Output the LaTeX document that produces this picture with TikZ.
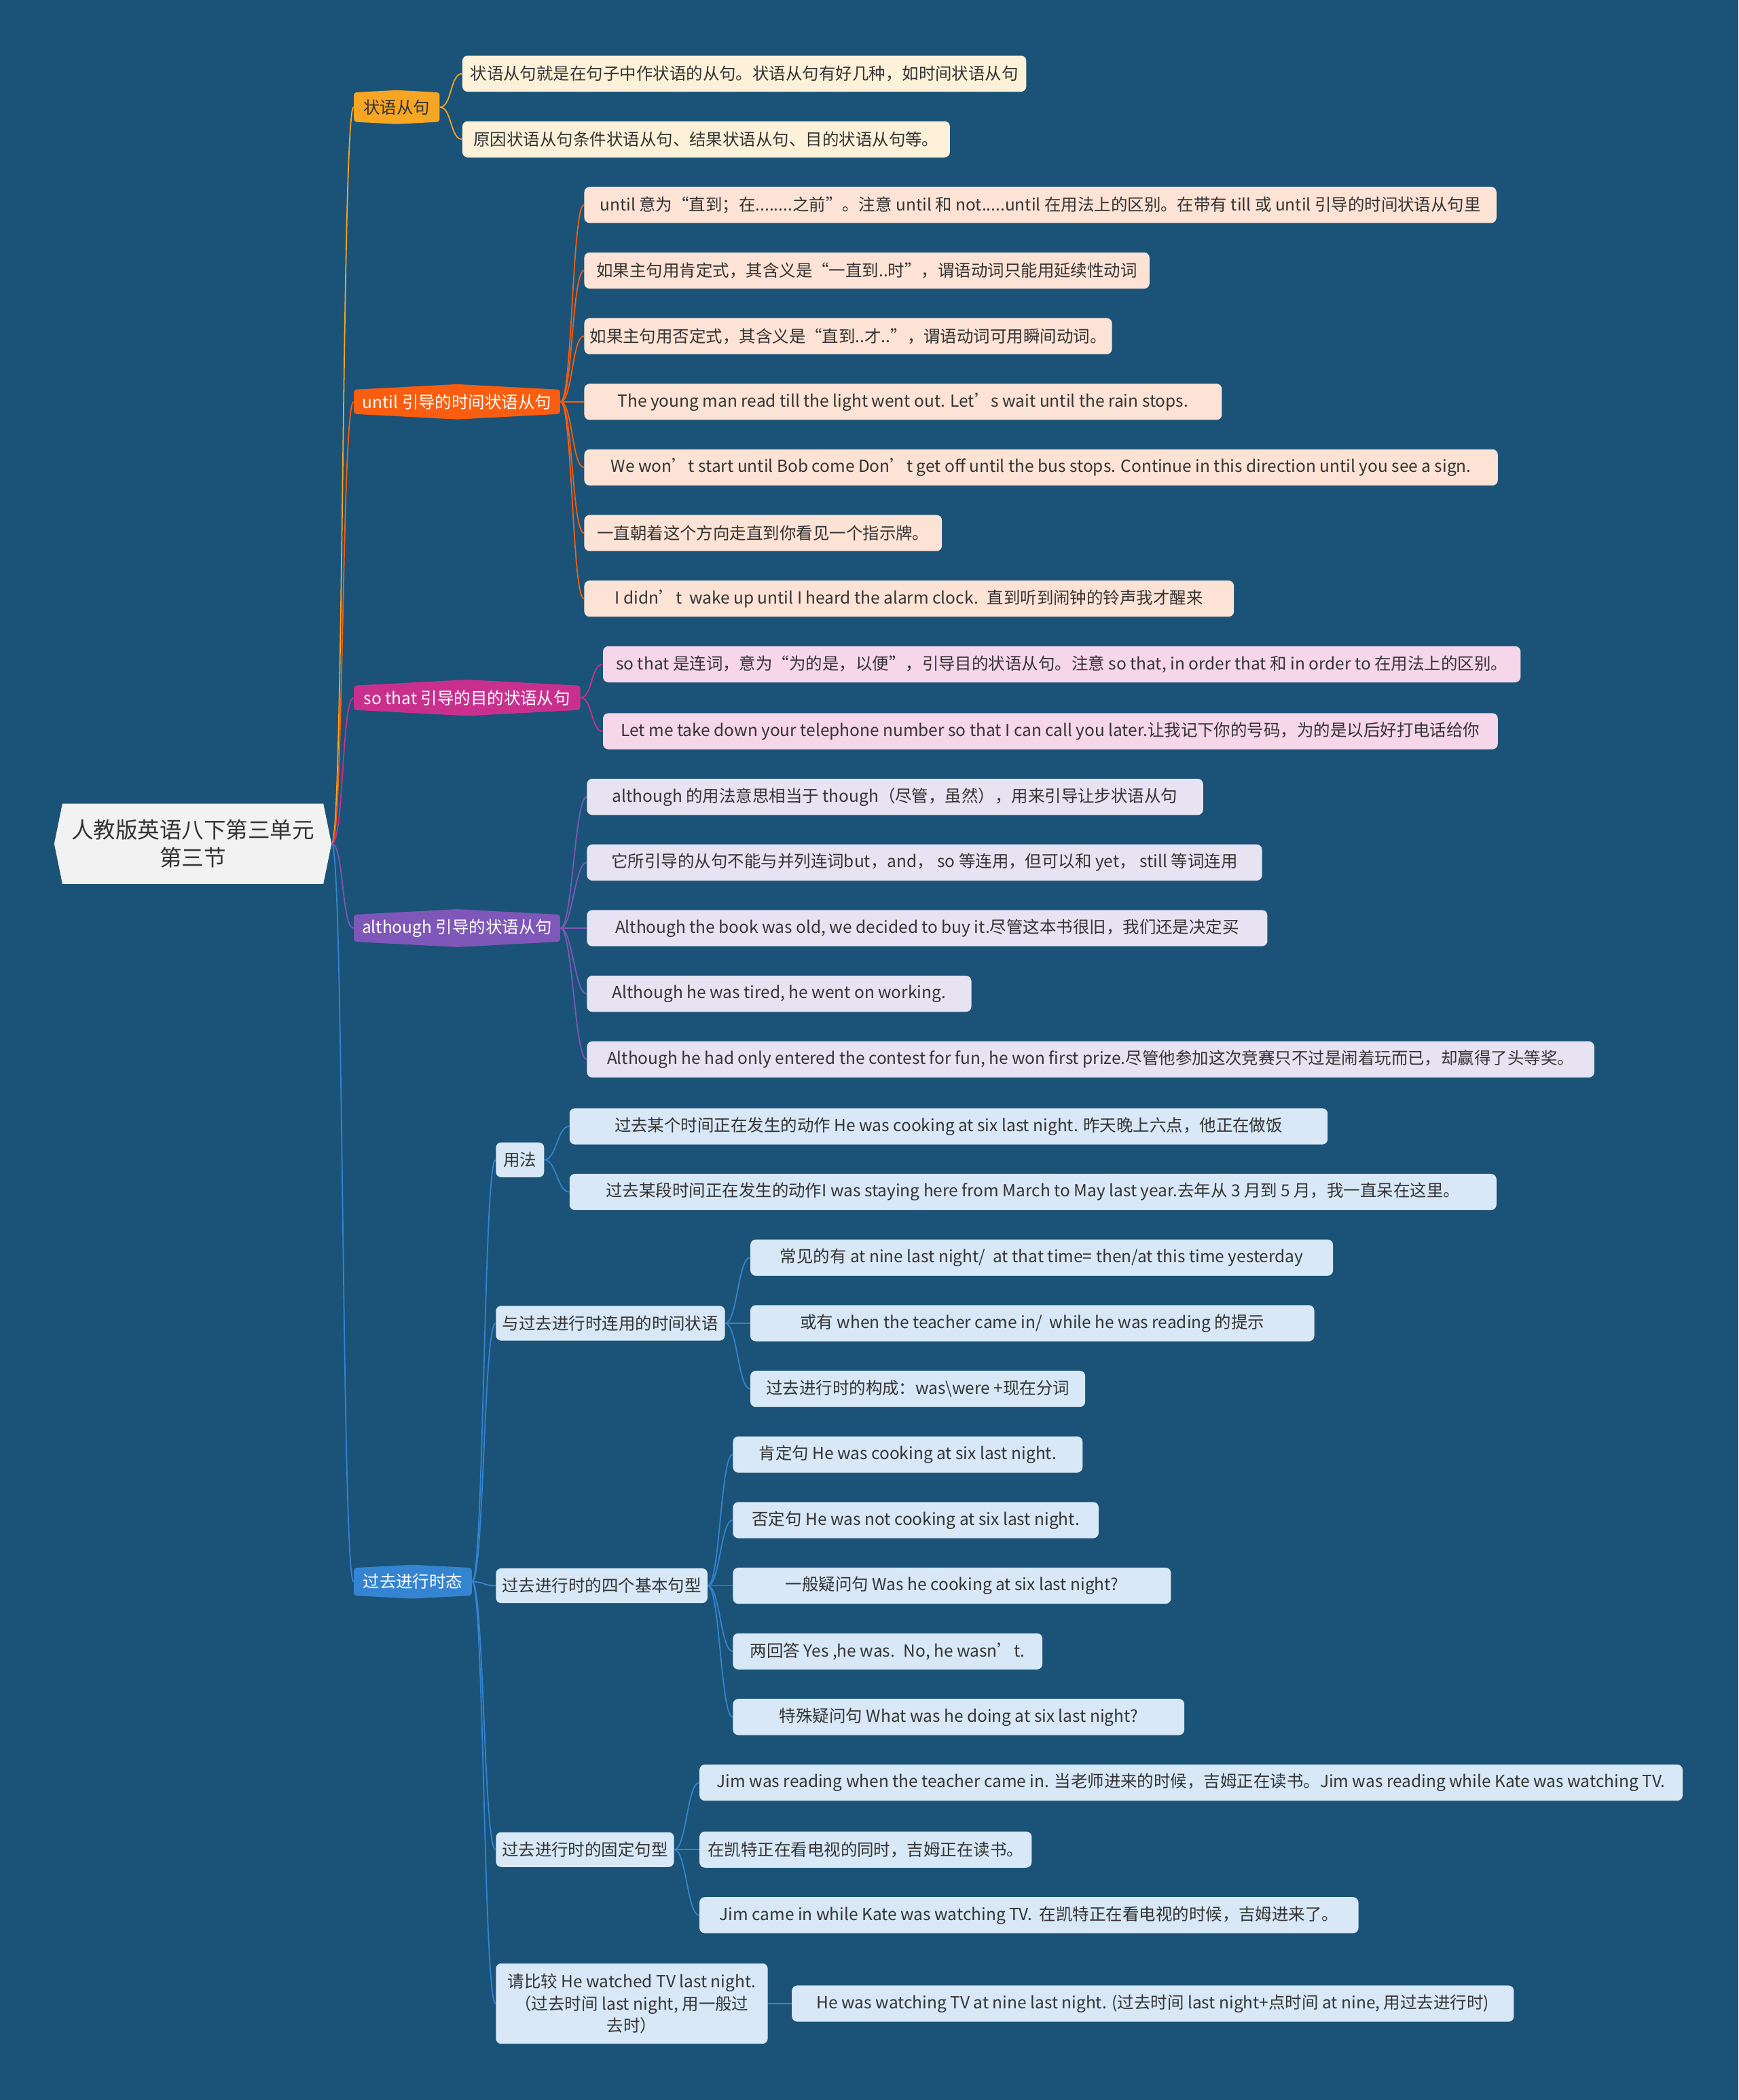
\documentclass[tikz,border=0pt]{standalone}
\usepackage{fontspec}
\setmainfont{Noto Sans CJK SC}
\usetikzlibrary{positioning,shapes.symbols}
\definecolor{bg}{HTML}{1A5377}
\definecolor{txt}{HTML}{333333}
\definecolor{rootfill}{HTML}{F2F2F2}
\definecolor{cA}{HTML}{F6A623}
\definecolor{cB}{HTML}{FA5D0F}
\definecolor{cC}{HTML}{C9308E}
\definecolor{cD}{HTML}{7E57B8}
\definecolor{cE}{HTML}{3584D2}
\definecolor{cAl}{HTML}{FDF1D9}
\definecolor{cBl}{HTML}{FDE3D5}
\definecolor{cCl}{HTML}{F6D6E9}
\definecolor{cDl}{HTML}{E8E3F2}
\definecolor{cEl}{HTML}{D8E8F6}

\begin{document}
\begin{tikzpicture}[
        x=1pt, y=-1pt,
        every node/.style = {font=\fontsize{12.4}{15}\selectfont},
        root/.style  = {signal, signal to=west and east, signal pointer angle=157,
                        fill=rootfill, text=txt, align=center,
                        minimum width=207pt, minimum height=60pt,
                        font=\fontsize{16.5}{21}\selectfont},
        topic/.style = {signal, signal to=north and south, signal pointer angle=174,
                        rounded corners=2pt, minimum height=25pt, inner xsep=4pt,
                        text=white, anchor=west},
        leaf/.style  = {rectangle, rounded corners=4pt, minimum height=27pt,
                        inner xsep=4pt, text=txt, anchor=west, align=center},
        sub/.style   = {leaf, fill=cEl, minimum height=26pt},
        link/.style  = {draw=#1, line width=0.9pt,
                        to path={.. controls +(9,0) and +(-9,0) .. (\tikztotarget)}}
    ]
    \fill[bg] (0,0) rectangle (1298,1568);
    \useasboundingbox (0,0) rectangle (1298,1568);

    \node[root] (root) at (144,630) {人教版英语八下第三单元\\第三节};

    % first level
    \node[topic, fill=cA, text=txt, minimum width=64pt] (zy)     at (264,80)   {状语从句};
    \node[topic, fill=cB, minimum width=154pt] (until)    at (264,300)  {until 引导的时间状语从句};
    \node[topic, fill=cC, minimum width=169pt] (sothat)   at (264,521)  {so that 引导的目的状语从句};
    \node[topic, fill=cD, minimum width=154pt] (although) at (264,693)  {although 引导的状语从句};
    \node[topic, fill=cE, minimum width=88pt]  (past)     at (264,1181) {过去进行时态};

    % 状语从句
    \node[leaf, fill=cAl, minimum width=421pt] (a1) at (345,55)  {状语从句就是在句子中作状语的从句。状语从句有好几种，如时间状语从句};
    \node[leaf, fill=cAl, minimum width=364pt] (a2) at (345,104) {原因状语从句条件状语从句、结果状语从句、目的状语从句等。};

    % until
    \node[leaf, fill=cBl, minimum width=681pt] (b1) at (436,153) {until 意为“直到；在........之前”。注意 until 和 not.....until 在用法上的区别。在带有 till 或 until 引导的时间状语从句里};
    \node[leaf, fill=cBl, minimum width=422pt] (b2) at (436,202) {如果主句用肯定式，其含义是“一直到..时”，谓语动词只能用延续性动词};
    \node[leaf, fill=cBl, minimum width=394pt] (b3) at (436,251) {如果主句用否定式，其含义是“直到..才..”，谓语动词可用瞬间动词。};
    \node[leaf, fill=cBl, minimum width=476pt] (b4) at (436,300) {The young man read till the light went out. Let’s wait until the rain stops.};
    \node[leaf, fill=cBl, minimum width=682pt] (b5) at (436,349) {We won’t start until Bob come Don’t get off until the bus stops. Continue in this direction until you see a sign.};
    \node[leaf, fill=cBl, minimum width=267pt] (b6) at (436,398) {一直朝着这个方向走直到你看见一个指示牌。};
    \node[leaf, fill=cBl, minimum width=485pt] (b7) at (436,447) {I didn’t \ wake up until I heard the alarm clock. \ 直到听到闹钟的铃声我才醒来};

    % so that
    \node[leaf, fill=cCl, minimum width=685pt] (c1) at (450,496) {so that 是连词，意为“为的是，以便”，引导目的状语从句。注意 so that, in order that 和 in order to 在用法上的区别。};
    \node[leaf, fill=cCl, minimum width=668pt] (c2) at (450,546) {Let me take down your telephone number so that I can call you later.让我记下你的号码，为的是以后好打电话给你};

    % although
    \node[leaf, fill=cDl, minimum width=460pt] (d1) at (438,595) {although 的用法意思相当于 though（尽管，虽然），用来引导让步状语从句};
    \node[leaf, fill=cDl, minimum width=504pt] (d2) at (438,644) {它所引导的从句不能与并列连词but，and， so 等连用，但可以和 yet， still 等词连用};
    \node[leaf, fill=cDl, minimum width=508pt] (d3) at (438,693) {Although the book was old, we decided to buy it.尽管这本书很旧，我们还是决定买};
    \node[leaf, fill=cDl, minimum width=287pt] (d4) at (438,742) {Although he was tired, he went on working.};
    \node[leaf, fill=cDl, minimum width=752pt] (d5) at (438,791) {Although he had only entered the contest for fun, he won first prize.尽管他参加这次竞赛只不过是闹着玩而已，却赢得了头等奖。};

    % 过去进行时态
    \node[sub, minimum width=36pt]  (yf)    at (370,866)  {用法};
    \node[sub, minimum width=171pt] (shjz)  at (370,988)  {与过去进行时连用的时间状语};
    \node[sub, minimum width=158pt] (jx)    at (370,1184) {过去进行时的四个基本句型};
    \node[sub, minimum width=133pt] (gd)    at (370,1381) {过去进行时的固定句型};
    \node[sub, minimum width=203pt, minimum height=60pt,
          font=\fontsize{12.4}{16.5}\selectfont] (bj) at (370,1496)
          {请比较 He watched TV last night.\\（过去时间 last night, 用一般过\\去时）};

    \node[leaf, fill=cEl, minimum width=566pt] (e1) at (425,841)  {过去某个时间正在发生的动作 He was cooking at six last night. 昨天晚上六点，他正在做饭};
    \node[leaf, fill=cEl, minimum width=692pt] (e2) at (425,890)  {过去某段时间正在发生的动作I was staying here from March to May last year.去年从 3 月到 5 月，我一直呆在这里。};
    \node[leaf, fill=cEl, minimum width=435pt] (e3) at (560,939)  {常见的有 at nine last night/ \ at that time= then/at this time yesterday};
    \node[leaf, fill=cEl, minimum width=421pt] (e4) at (560,988)  {或有 when the teacher came in/ \ while he was reading 的提示};
    \node[leaf, fill=cEl, minimum width=250pt] (e5) at (560,1037) {过去进行时的构成：was\textbackslash were +现在分词};
    \node[leaf, fill=cEl, minimum width=261pt] (e6) at (547,1086) {肯定句 He was cooking at six last night.};
    \node[leaf, fill=cEl, minimum width=273pt] (e7) at (547,1135) {否定句 He was not cooking at six last night.};
    \node[leaf, fill=cEl, minimum width=327pt] (e8) at (547,1184) {一般疑问句 Was he cooking at six last night?};
    \node[leaf, fill=cEl, minimum width=231pt] (e9) at (547,1233) {两回答 Yes ,he was. \ No, he wasn’t.};
    \node[leaf, fill=cEl, minimum width=337pt] (e10) at (547,1282) {特殊疑问句 What was he doing at six last night?};
    \node[leaf, fill=cEl, minimum width=734pt] (e11) at (522,1331) {Jim was reading when the teacher came in. 当老师进来的时候，吉姆正在读书。Jim was reading while Kate was watching TV.};
    \node[leaf, fill=cEl, minimum width=248pt] (e12) at (522,1381) {在凯特正在看电视的同时，吉姆正在读书。};
    \node[leaf, fill=cEl, minimum width=492pt] (e13) at (522,1430) {Jim came in while Kate was watching TV. \ 在凯特正在看电视的时候，吉姆进来了。};
    \node[leaf, fill=cEl, minimum width=539pt] (e14) at (591,1496) {He was watching TV at nine last night. (过去时间 last night+点时间 at nine, 用过去进行时)};

    % connectors
    \draw[link=cA] (root.east) to (zy.west);
    \draw[link=cB] (root.east) to (until.west);
    \draw[link=cC] (root.east) to (sothat.west);
    \draw[link=cD] (root.east) to (although.west);
    \draw[link=cE] (root.east) to (past.west);

    \draw[link=cA] (zy.east) to (a1.west);
    \draw[link=cA] (zy.east) to (a2.west);

    \draw[link=cB] (until.east) to (b1.west);
    \draw[link=cB] (until.east) to (b2.west);
    \draw[link=cB] (until.east) to (b3.west);
    \draw[link=cB] (until.east) to (b4.west);
    \draw[link=cB] (until.east) to (b5.west);
    \draw[link=cB] (until.east) to (b6.west);
    \draw[link=cB] (until.east) to (b7.west);

    \draw[link=cC] (sothat.east) to (c1.west);
    \draw[link=cC] (sothat.east) to (c2.west);

    \draw[link=cD] (although.east) to (d1.west);
    \draw[link=cD] (although.east) to (d2.west);
    \draw[link=cD] (although.east) to (d3.west);
    \draw[link=cD] (although.east) to (d4.west);
    \draw[link=cD] (although.east) to (d5.west);

    \draw[link=cE] (past.east) to (yf.west);
    \draw[link=cE] (past.east) to (shjz.west);
    \draw[link=cE] (past.east) to (jx.west);
    \draw[link=cE] (past.east) to (gd.west);
    \draw[link=cE] (past.east) to (bj.west);

    \draw[link=cE] (yf.east) to (e1.west);
    \draw[link=cE] (yf.east) to (e2.west);
    \draw[link=cE] (shjz.east) to (e3.west);
    \draw[link=cE] (shjz.east) to (e4.west);
    \draw[link=cE] (shjz.east) to (e5.west);
    \draw[link=cE] (jx.east) to (e6.west);
    \draw[link=cE] (jx.east) to (e7.west);
    \draw[link=cE] (jx.east) to (e8.west);
    \draw[link=cE] (jx.east) to (e9.west);
    \draw[link=cE] (jx.east) to (e10.west);
    \draw[link=cE] (gd.east) to (e11.west);
    \draw[link=cE] (gd.east) to (e12.west);
    \draw[link=cE] (gd.east) to (e13.west);
    \draw[link=cE] (bj.east) to (e14.west);
\end{tikzpicture}
\end{document}
